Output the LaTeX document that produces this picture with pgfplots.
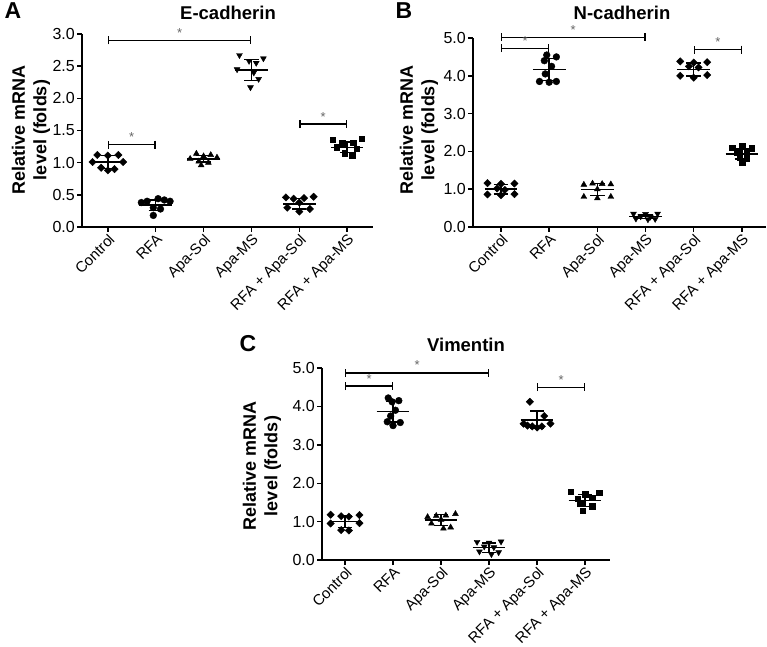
\documentclass[border=0pt]{standalone}
\usepackage{fontspec}
\setmainfont{Liberation Sans}
\usepackage{pgfplots}
\pgfplotsset{compat=1.18}
\usetikzlibrary{arrows.meta}

\pgfplotsset{
 panel/.style={
   scale only axis, clip=false,
   axis x line=bottom, axis y line=left,
   axis line style={-, line width=1.4pt, black},
   tick style={line width=1.4pt, black},
   major tick length=5pt, tick align=outside,
   xtick={0,1,2,3,4,5},
   xticklabels={Control,RFA,Apa-Sol,Apa-MS,RFA + Apa-Sol,RFA + Apa-MS},
   xticklabel style={rotate=45, anchor=north east, inner sep=0.5pt, font=\fontsize{15}{17}\selectfont},
   yticklabel style={font=\fontsize{16}{18}\selectfont, inner sep=2pt,
     /pgf/number format/fixed, /pgf/number format/fixed zerofill,
     /pgf/number format/precision=1, /pgf/number format/assume math mode=true},
   ymin=0,
 },
 dia/.style={mark=square*, mark size=2.6pt, mark options={rotate=45}},
}

% x, mean, sd, mark spec, points
\newcommand{\grp}[5]{%
  \addplot[only marks, black, mark size=3.4pt, mark=#4] coordinates {#5};
  \pgfmathsetmacro{\xl}{#1-0.34}\pgfmathsetmacro{\xr}{#1+0.34}%
  \pgfmathsetmacro{\cl}{#1-0.15}\pgfmathsetmacro{\cr}{#1+0.15}%
  \pgfmathsetmacro{\yl}{#2-#3}\pgfmathsetmacro{\yh}{#2+#3}%
  \addplot[black, line width=1.4pt, mark=none] coordinates {(\xl,#2) (\xr,#2)};
  \addplot[black, line width=1.4pt, mark=none] coordinates {(#1,\yl) (#1,\yh)};
  \addplot[black, line width=1.4pt, mark=none] coordinates {(\cl,\yl) (\cr,\yl)};
  \addplot[black, line width=1.4pt, mark=none] coordinates {(\cl,\yh) (\cr,\yh)};
}
% x1, x2, y, mid
\newcommand{\brk}[4]{%
  \draw[line width=1.3pt, {Bar[width=8pt]}-{Bar[width=8pt]}] (axis cs:#1,#3) -- (axis cs:#2,#3);
  \node[text=black!60, font=\fontsize{13}{13}\selectfont, yshift=7.5pt] at (axis cs:#4,#3) {*};
}

\begin{document}
\begin{tikzpicture}
\useasboundingbox (0,0) rectangle (767pt,646pt);

% ---------- Panel A ----------
\node[font=\bfseries\fontsize{23}{23}\selectfont] at (13pt,635pt) {A};
\node[font=\bfseries\fontsize{18.5}{18}\selectfont] at (228pt,633pt) {E-cadherin};
\node[rotate=90, align=center, font=\bfseries\fontsize{18}{21.5}\selectfont] at (31pt,516pt) {Relative mRNA\\level (folds)};
\begin{axis}[panel, at={(82pt,419pt)}, anchor=south west, width=291pt, height=193pt,
  xmin=-0.54, xmax=5.54, ymax=3, ytick={0,0.5,1,1.5,2,2.5,3}]
\grp{0}{1.01}{0.10}{square*, dia}{(-0.22,1.12)(0,1.11)(0.22,1.12)(-0.32,1.01)(0.32,1.01)(-0.14,0.92)(0.0,0.88)(0.14,0.90)}
\grp{1}{0.34}{0.08}{*}{(0.7,0.38)(0.82,0.40)(1.05,0.44)(1.18,0.42)(1.3,0.40)(0.95,0.30)(1.1,0.28)(0.95,0.18)}
\grp{2}{1.06}{0.05}{triangle*}{(1.85,1.14)(2.0,1.10)(2.15,1.12)(1.72,1.06)(2.28,1.08)(1.9,1.02)(2.1,1.00)(1.95,0.96)}
\grp{3}{2.44}{0.16}{triangle*, mark options={rotate=180}}{(2.75,2.67)(3.25,2.62)(3.1,2.55)(2.95,2.58)(2.7,2.45)(3.05,2.40)(3.15,2.30)(2.98,2.17)}
\grp{4}{0.36}{0.08}{square*, dia}{(3.72,0.46)(4.3,0.47)(3.88,0.44)(4.1,0.45)(4.0,0.38)(3.75,0.30)(4.22,0.28)(4.0,0.24)}
\grp{5}{1.24}{0.08}{square*, mark size=2.8pt}{(4.7,1.36)(5.3,1.37)(4.9,1.30)(5.12,1.31)(4.78,1.24)(5.2,1.22)(4.95,1.15)(5.1,1.12)}
\brk{0}{3}{2.9}{1.5}
\brk{0}{1}{1.28}{0.5}
\brk{4}{5}{1.6}{4.5}
\end{axis}

% ---------- Panel B ----------
\node[font=\bfseries\fontsize{23}{23}\selectfont] at (404pt,635pt) {B};
\node[font=\bfseries\fontsize{18.5}{18}\selectfont] at (622pt,633pt) {N-cadherin};
\node[rotate=90, align=center, font=\bfseries\fontsize{18}{21.5}\selectfont] at (419pt,516pt) {Relative mRNA\\level (folds)};
\begin{axis}[panel, at={(473pt,419pt)}, anchor=south west, width=293pt, height=189pt,
  xmin=-0.58, xmax=5.5, ymax=5, ytick={0,1,2,3,4,5}]
\grp{0}{1.00}{0.13}{square*, dia}{(-0.28,1.16)(0,1.14)(0.28,1.15)(-0.08,1.02)(0.08,0.98)(-0.28,0.86)(0,0.84)(0.28,0.87)}
\grp{1}{4.17}{0.29}{*}{(0.95,4.55)(1.15,4.50)(0.9,4.40)(1.05,4.25)(0.92,4.05)(0.8,3.85)(1.0,3.83)(1.15,3.85)}
\grp{2}{0.99}{0.16}{triangle*}{(1.72,1.12)(1.9,1.15)(2.1,1.14)(2.28,1.13)(2,1.0)(1.72,0.80)(2,0.76)(2.28,0.80)}
\grp{3}{0.27}{0.05}{triangle*, mark options={rotate=180}}{(2.75,0.35)(3.0,0.34)(3.25,0.35)(2.9,0.28)(3.1,0.27)(2.8,0.22)(3.05,0.20)(3.2,0.21)}
\grp{4}{4.17}{0.17}{square*, dia}{(3.72,4.38)(4.0,4.35)(4.28,4.36)(3.9,4.25)(4.1,4.22)(3.72,4.00)(4.0,3.95)(4.28,4.02)}
\grp{5}{1.93}{0.13}{square*, mark size=2.8pt}{(4.8,2.10)(5.0,2.15)(5.2,2.08)(4.9,1.98)(5.1,1.95)(4.95,1.85)(5.1,1.82)(5.0,1.72)}
\brk{0}{3}{5.02}{1.5}
\brk{0}{1}{4.73}{0.5}
\brk{4}{5}{4.69}{4.5}
\end{axis}

% ---------- Panel C ----------
\node[font=\bfseries\fontsize{23}{23}\selectfont] at (248pt,302pt) {C};
\node[font=\bfseries\fontsize{18.5}{18}\selectfont] at (466pt,301pt) {Vimentin};
\node[rotate=90, align=center, font=\bfseries\fontsize{18}{21.5}\selectfont] at (262pt,180pt) {Relative mRNA\\level (folds)};
\begin{axis}[panel, at={(322pt,86pt)}, anchor=south west, width=288pt, height=192pt,
  xmin=-0.48, xmax=5.52, ymax=5, ytick={0,1,2,3,4,5}]
\grp{0}{1.00}{0.16}{square*, dia}{(-0.3,1.18)(0.3,1.17)(-0.08,1.14)(0.08,1.13)(-0.3,0.95)(0.3,0.96)(-0.08,0.78)(0.08,0.77)}
\grp{1}{3.86}{0.27}{*}{(0.9,4.22)(1.12,4.15)(0.98,4.12)(1.05,3.90)(0.95,3.75)(0.88,3.60)(1.15,3.58)(1.0,3.50)}
\grp{2}{1.04}{0.14}{triangle*}{(1.72,1.12)(1.9,1.15)(2.1,1.16)(2.3,1.20)(2.0,1.05)(1.8,0.95)(2.05,0.82)(2.2,0.85)}
\grp{3}{0.32}{0.12}{triangle*, mark options={rotate=180}}{(2.75,0.47)(3.0,0.45)(3.25,0.48)(2.9,0.35)(3.1,0.33)(2.8,0.22)(3.05,0.15)(3.2,0.20)}
\grp{4}{3.65}{0.23}{square*, dia}{(3.85,4.12)(4.15,3.75)(3.72,3.55)(4.28,3.55)(3.9,3.48)(4.1,3.48)(4.0,3.45)(3.8,3.50)}
\grp{5}{1.55}{0.15}{square*, mark size=2.8pt}{(4.7,1.78)(5.3,1.75)(5.0,1.72)(4.85,1.60)(5.15,1.62)(4.9,1.48)(5.15,1.40)(4.95,1.28)}
\brk{0}{3}{4.87}{1.5}
\brk{0}{1}{4.53}{0.5}
\brk{4}{5}{4.50}{4.5}
\end{axis}
\end{tikzpicture}
\end{document}
